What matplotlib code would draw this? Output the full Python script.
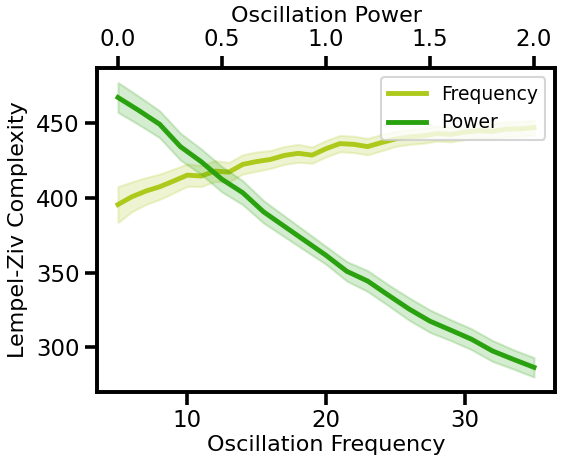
import numpy as np
import matplotlib
matplotlib.use("Agg")
import matplotlib.pyplot as plt
import seaborn as sns

# frequency sweep (bottom axis)
freqs = list(range(5, 36))
freq_lzc = [395.5, 400.7, 404.5, 407.4, 411.2, 415.2, 414.6, 417.9, 417.2, 422.4,
            424.3, 425.7, 428.4, 429.8, 428.6, 432.9, 436.3, 435.8, 434.3, 437.0,
            439.4, 440.8, 441.5, 443.0, 442.5, 444.0, 445.0, 444.5, 446.0, 446.2,
            447.0]
freq_err = [12, 10, 9, 8.5, 8, 7.5, 7, 7, 6.5, 6.5,
            6.5, 6, 6, 6, 5.5, 5.5, 5.5, 5.5, 5.5, 5.5,
            5, 5, 5, 5, 5, 5, 5, 5, 5, 5,
            5]

# power sweep (top axis)
powers = [0.0, 0.1, 0.2, 0.3, 0.4, 0.5, 0.6, 0.7, 0.8, 0.9, 1.0,
          1.1, 1.2, 1.3, 1.4, 1.5, 1.6, 1.7, 1.8, 1.9, 2.0]
pow_lzc = [467.2, 458.5, 449.3, 434.3, 424.2, 412.4, 403.4, 390.6, 380.9, 371.2,
           361.5, 350.8, 344.3, 334.8, 325.5, 317.4, 311.4, 305.3, 297.5, 291.9,
           286.5]
pow_err = [10, 9.5, 9, 9, 8.5, 8.5, 8, 7.5, 7, 6.5, 6,
           6.5, 7, 7, 7.5, 7.5, 7, 7, 7, 6.5, 6.5]

c_freq = '#adc91b'
c_pow = '#2aa10f'

sns.set_context('talk')
plt.rcParams['axes.labelsize'] = 16

fig, ax = plt.subplots(figsize=(5.65, 4.65), dpi=100)
fig.subplots_adjust(left=0.172, right=0.982, top=0.854, bottom=0.157)

f = np.array(freq_lzc)
fe = np.array(freq_err)
l1, = ax.plot(freqs, f, color=c_freq, lw=3.5, label='Frequency')
ax.fill_between(freqs, f - fe, f + fe, color=c_freq, alpha=0.2)
ax.set_xlabel('Oscillation Frequency', labelpad=2)
ax.set_ylabel('Lempel-Ziv Complexity', labelpad=6)
ax.set_yticks([300, 350, 400, 450])

ax2 = ax.twiny()
p = np.array(pow_lzc)
pe = np.array(pow_err)
l2, = ax2.plot(powers, p, color=c_pow, lw=3.5, label='Power')
ax2.fill_between(powers, p - pe, p + pe, color=c_pow, alpha=0.2)
ax2.set_xlabel('Oscillation Power', labelpad=4)
ax2.set_xticks([0.0, 0.5, 1.0, 1.5, 2.0])
ax.set_ylim(270, 487)

for a in (ax, ax2):
    for s in a.spines.values():
        s.set_linewidth(2.6)
        s.set_color('black')
    a.tick_params(width=2.6, length=9)

ax2.legend([l1, l2], ['Frequency', 'Power'], loc='upper right', fontsize=13.5)

fig.savefig('out.png', dpi=100)
